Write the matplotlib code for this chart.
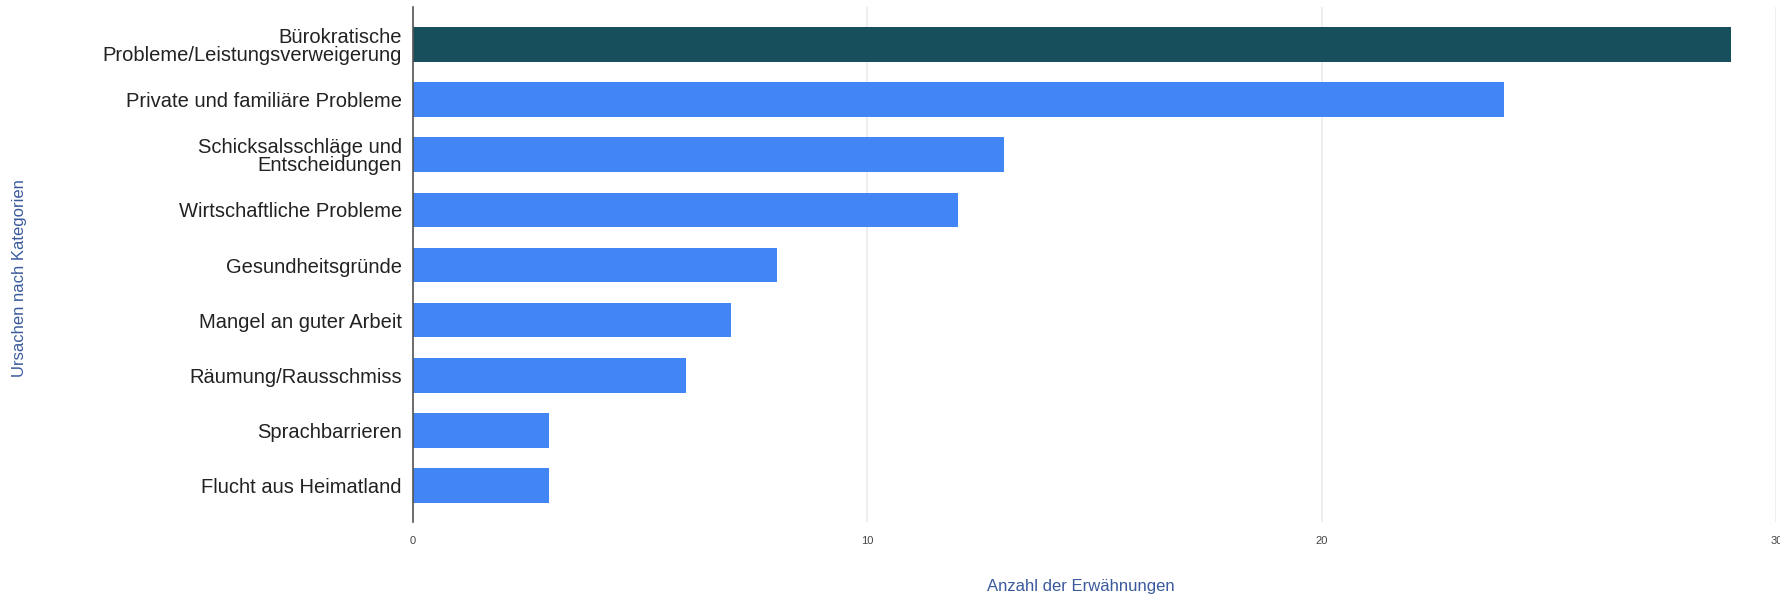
import matplotlib
matplotlib.use("Agg")
import matplotlib.pyplot as plt

categories = [
    "Bürokratische\nProbleme/Leistungsverweigerung",
    "Private und familiäre Probleme",
    "Schicksalsschläge und\nEntscheidungen",
    "Wirtschaftliche Probleme",
    "Gesundheitsgründe",
    "Mangel an guter Arbeit",
    "Räumung/Rausschmiss",
    "Sprachbarrieren",
    "Flucht aus Heimatland",
]
counts = [29, 24, 13, 12, 8, 7, 6, 3, 3]
highlight = 0

x_ticks = [0, 10, 20, 30]
x_title = "Anzahl der Erwähnungen"
y_title = "Ursachen nach Kategorien"

plt.rcParams["font.family"] = ["Liberation Sans", "DejaVu Sans"]

fig = plt.figure(figsize=(17.8, 5.99), dpi=100)
ax = fig.add_axes([0.232, 0.129, 0.766, 0.859])

colors = ["#174f5c" if i == highlight else "#4285f4" for i in range(len(counts))]
ypos = list(range(len(counts)))
ax.barh(ypos, counts, height=0.63, color=colors, zorder=3)

# axis line runs a bit past the first and last bar, like the original
ax.set_ylim(len(counts) - 1 + 0.66, -0.68)
ax.set_xlim(0, 30)
ax.set_yticks(ypos)
ax.set_yticklabels(categories, fontsize=14.5, color="#222222", linespacing=0.95)
ax.set_xticks(x_ticks)
ax.set_xticklabels([str(t) for t in x_ticks], fontsize=8, color="#444444")
ax.tick_params(axis="both", length=0)
ax.tick_params(axis="x", pad=10)
ax.tick_params(axis="y", pad=8)

ax.grid(axis="x", color="#ebebeb", linewidth=1.2, zorder=0)
for s in ["top", "right", "bottom"]:
    ax.spines[s].set_visible(False)
ax.spines["left"].set_color("#555555")
ax.spines["left"].set_linewidth(1.2)
ax.spines["left"].set_zorder(4)

fig.text(0.607, 0.021, x_title, ha="center", va="center", fontsize=12, color="#3a5a9c")
fig.text(0.011, 0.536, y_title, ha="center", va="center", rotation=90,
         fontsize=12, color="#3a5a9c")

fig.savefig("out.png", dpi=100)
